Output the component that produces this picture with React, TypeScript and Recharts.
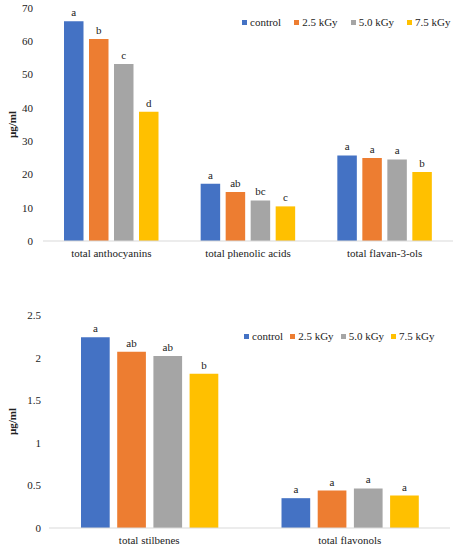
import React from 'react';
import { BarChart, Bar, XAxis, YAxis, Legend, LabelList } from 'recharts';

const seriesNames = ['control', '2.5 kGy', '5.0 kGy', '7.5 kGy'];
const colors = ['#4472C4', '#ED7D31', '#A5A5A5', '#FFC000'];

// upper panel
const topCategories = ['total anthocyanins', 'total phenolic acids', 'total flavan-3-ols'];
const topControl = [66.0, 17.2, 25.7];
const top25 = [60.7, 14.7, 24.9];
const top50 = [53.2, 12.2, 24.5];
const top75 = [38.8, 10.4, 20.7];
const topLetters = [
    ['a', 'a', 'a'],
    ['b', 'ab', 'a'],
    ['c', 'bc', 'a'],
    ['d', 'c', 'b'],
];
const topTicks = [0, 10, 20, 30, 40, 50, 60, 70];

// lower panel
const bottomCategories = ['total stilbenes', 'total flavonols'];
const bottomControl = [2.24, 0.35];
const bottom25 = [2.07, 0.44];
const bottom50 = [2.02, 0.465];
const bottom75 = [1.81, 0.38];
const bottomLetters = [
    ['a', 'a'],
    ['ab', 'a'],
    ['ab', 'a'],
    ['b', 'a'],
];
const bottomTicks = [0, 0.5, 1, 1.5, 2, 2.5];

const font = '"Liberation Serif", "Times New Roman", serif';

function buildRows(categories: string[], series: number[][], letters: string[][]) {
    return categories.map((name, i) => {
        const row: Record<string, string | number> = { name };
        series.forEach((vals, s) => {
            row[`s${s}`] = vals[i];
            row[`l${s}`] = letters[s][i];
        });
        return row;
    });
}

const topData = buildRows(topCategories, [topControl, top25, top50, top75], topLetters);
const bottomData = buildRows(bottomCategories, [bottomControl, bottom25, bottom50, bottom75], bottomLetters);

function LegendRow({ gap }: { gap: number }) {
    return (
        <div style={{ display: 'flex', alignItems: 'center', fontFamily: font, fontSize: 11, color: '#222', whiteSpace: 'nowrap' }}>
            {seriesNames.map((n, i) => (
                <span key={n} style={{ display: 'flex', alignItems: 'center', marginRight: i < 3 ? gap : 0 }}>
                    <span style={{ width: 5, height: 5, background: colors[i], marginRight: 3, display: 'inline-block' }} />
                    {n}
                </span>
            ))}
        </div>
    );
}

interface PanelProps {
    data: Record<string, string | number>[];
    width: number;
    height: number;
    margin: { top: number; right: number; left: number; bottom: number };
    yWidth: number;
    yMax: number;
    ticks: number[];
    tickMargin: number;
    xHeight: number;
    barSize: number;
    barGap: number;
    legendPos: { top: number; left: number };
    legendGap: number;
}

function Panel(p: PanelProps) {
    return (
        <BarChart width={p.width} height={p.height} data={p.data} margin={p.margin} barSize={p.barSize} barGap={p.barGap}>
            <XAxis
                dataKey="name"
                height={p.xHeight}
                tickLine={false}
                axisLine={{ stroke: '#d9d9d9' }}
                tick={{ fontSize: 11, fill: '#222', fontFamily: font }}
                interval={0}
            />
            <YAxis
                width={p.yWidth}
                domain={[0, p.yMax]}
                ticks={p.ticks}
                axisLine={false}
                tickLine={false}
                tickMargin={p.tickMargin}
                tick={{ fontSize: 11, fill: '#222', fontFamily: font }}
                label={{
                    value: 'µg/ml',
                    angle: -90,
                    position: 'center',
                    dx: -(p.yWidth / 2 - 12),
                    style: { fontSize: 11, fontWeight: 'bold', fill: '#222', fontFamily: font },
                }}
            />
            <Legend
                layout="horizontal"
                verticalAlign="middle"
                align="center"
                wrapperStyle={{ top: p.legendPos.top, left: p.legendPos.left, width: 'auto' }}
                content={() => <LegendRow gap={p.legendGap} />}
            />
            {seriesNames.map((n, i) => (
                <Bar key={n} dataKey={`s${i}`} name={n} fill={colors[i]} isAnimationActive={false}>
                    <LabelList dataKey={`l${i}`} position="top" style={{ fontSize: 11, fill: '#222', fontFamily: font }} />
                </Bar>
            ))}
        </BarChart>
    );
}

export default function App() {
    return (
        <div style={{ position: 'absolute', top: 0, left: 0, width: 455, height: 550, background: '#fff' }}>
            <div style={{ position: 'absolute', top: 0, left: 0 }}>
                <Panel
                    data={topData}
                    width={455}
                    height={265}
                    margin={{ top: 8, right: 2, left: 0, bottom: 0 }}
                    yWidth={43}
                    yMax={70}
                    ticks={topTicks}
                    tickMargin={4}
                    xHeight={24}
                    barSize={19.5}
                    barGap={5.5}
                    legendPos={{ top: 16, left: 242 }}
                    legendGap={13}
                />
            </div>
            <div style={{ position: 'absolute', top: 280, left: 0 }}>
                <Panel
                    data={bottomData}
                    width={455}
                    height={270}
                    margin={{ top: 35, right: 5, left: 0, bottom: 0 }}
                    yWidth={49}
                    yMax={2.5}
                    ticks={bottomTicks}
                    tickMargin={2}
                    xHeight={22}
                    barSize={28.7}
                    barGap={7.5}
                    legendPos={{ top: 50, left: 244 }}
                    legendGap={7}
                />
            </div>
        </div>
    );
}
